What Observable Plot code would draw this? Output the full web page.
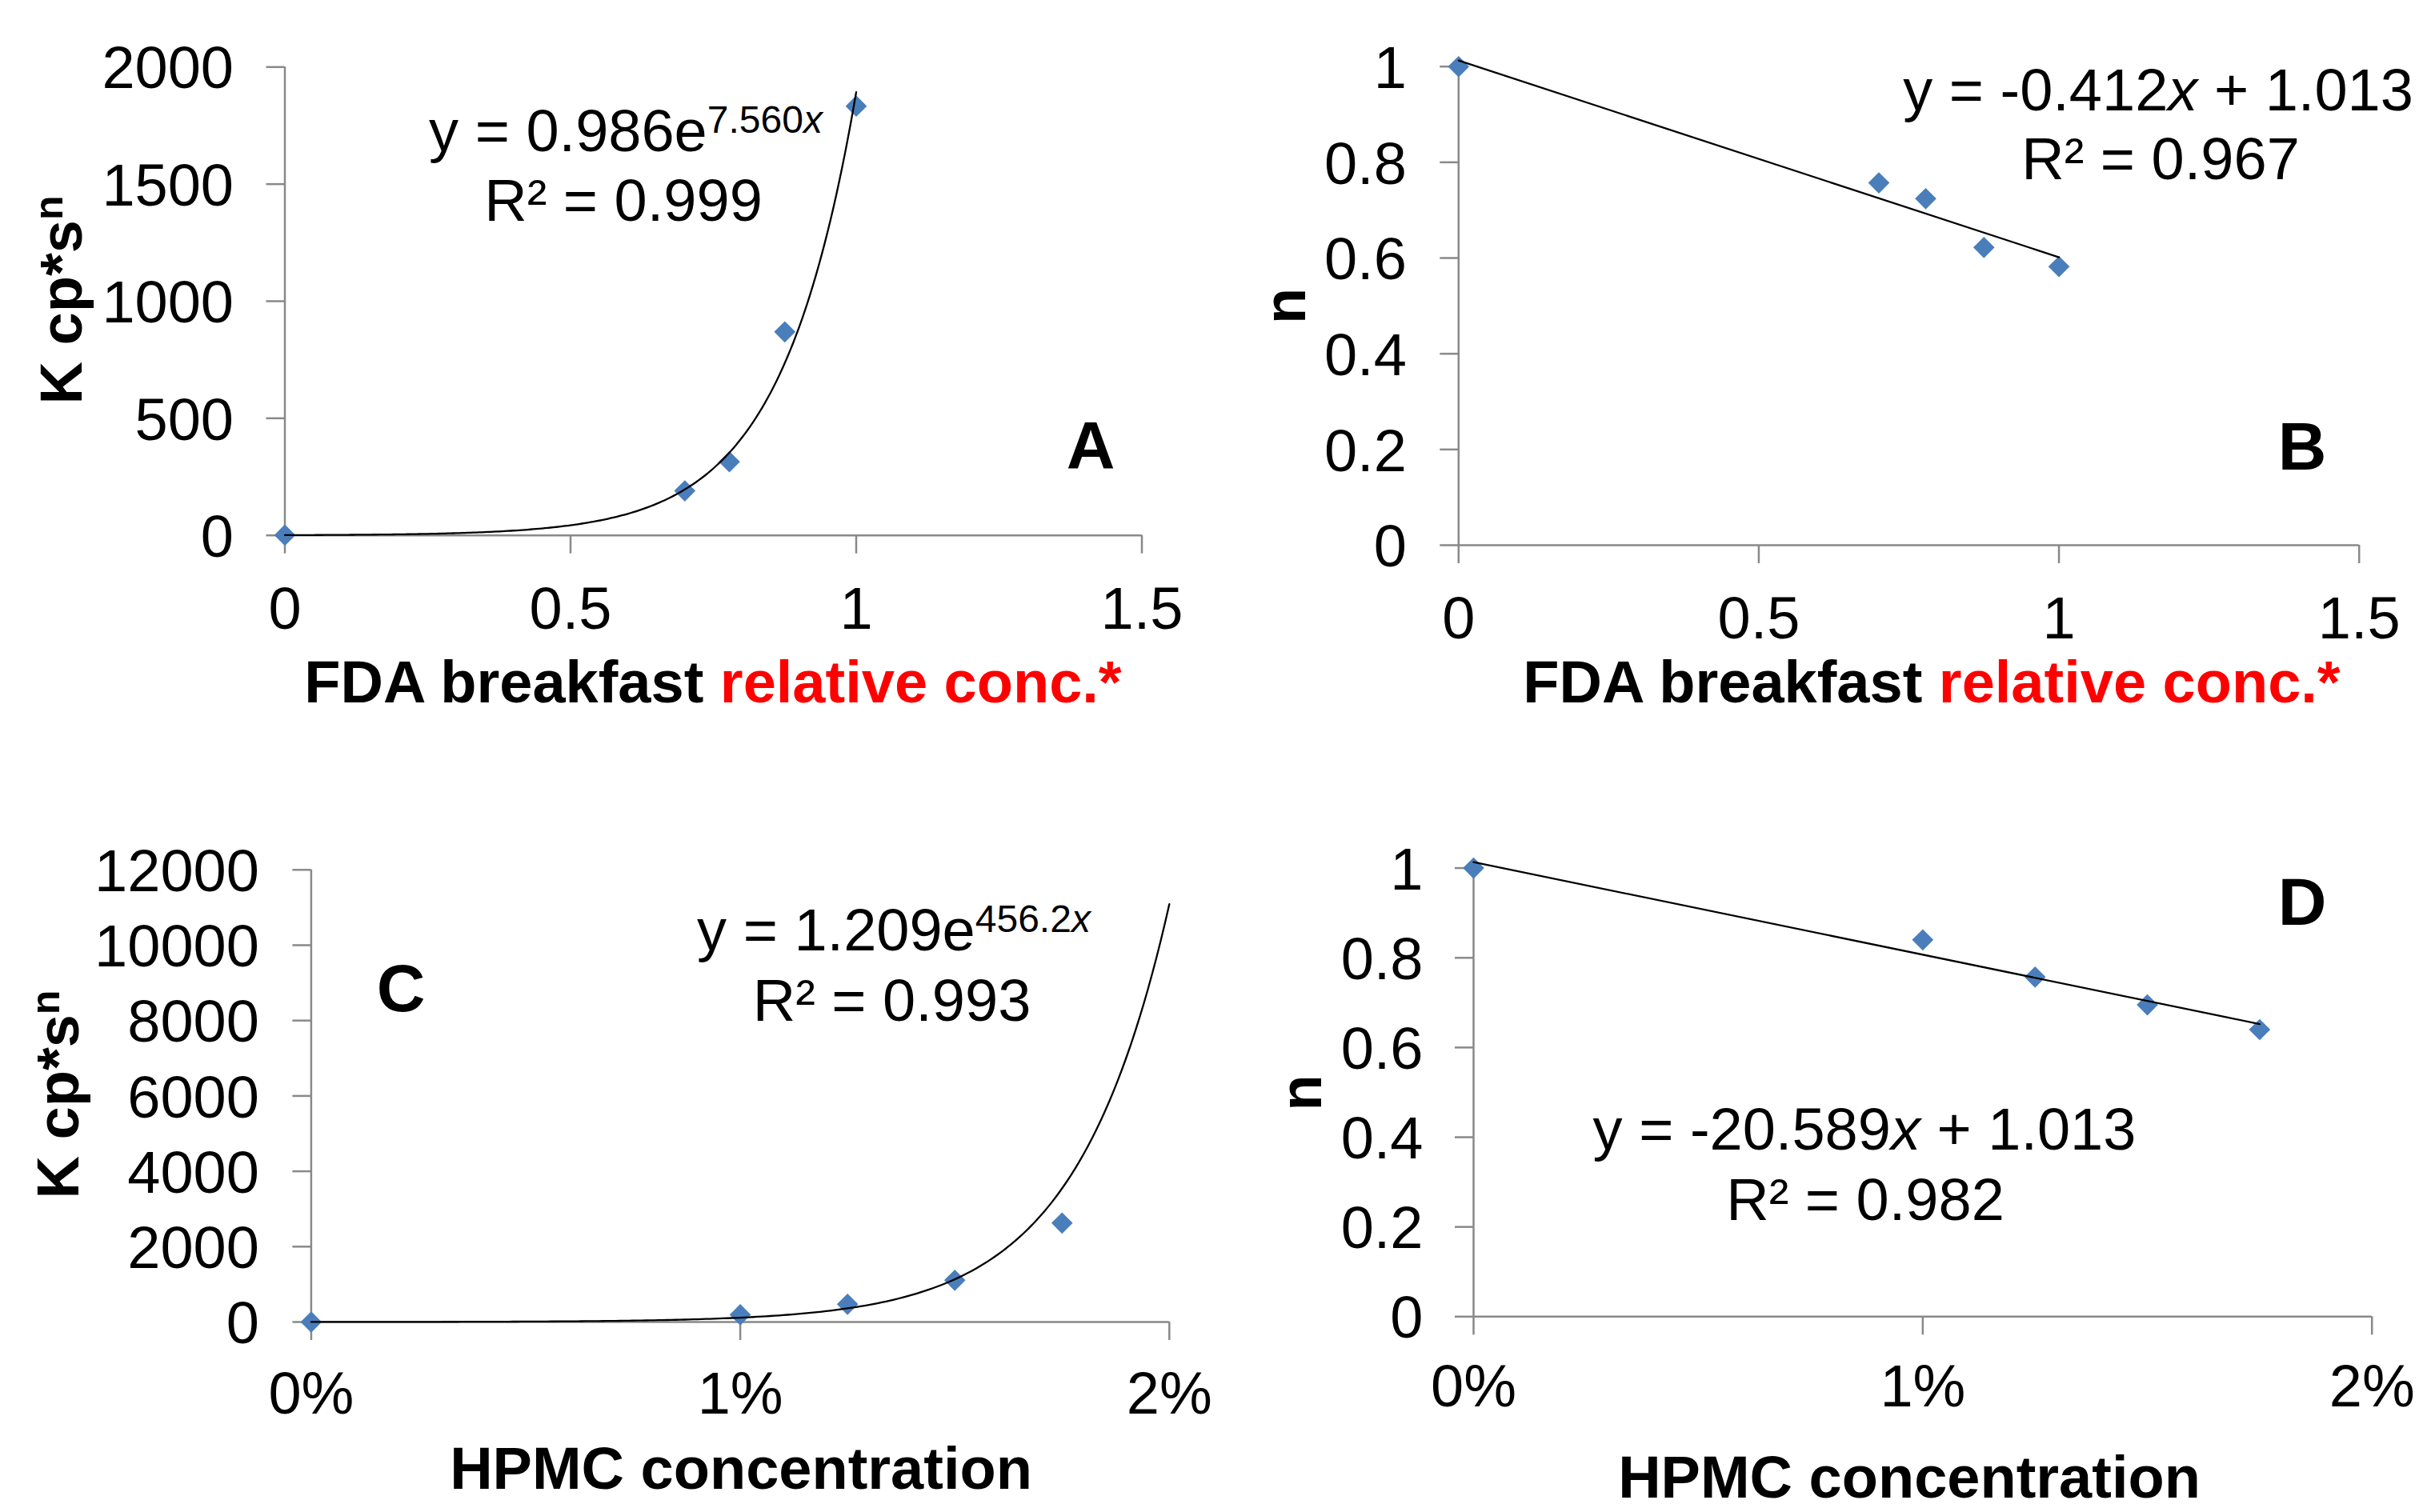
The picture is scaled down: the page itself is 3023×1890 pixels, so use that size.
<!DOCTYPE html>
<html>
<head>
<meta charset="utf-8">
<script src="https://cdn.jsdelivr.net/npm/d3@7"></script>
<script src="https://cdn.jsdelivr.net/npm/@observablehq/plot@0.6"></script>
<style>
  html, body { margin: 0; padding: 0; background: #fff; overflow: hidden; }
  #root { position: relative; width: 3023px; height: 1890px; background: #fff; }
  #root svg { position: absolute; overflow: visible; }
</style>
</head>
<body>
<div id="root"></div>
<script>
// ---------- data ----------
const fdaConc   = [0, 0.7, 0.778, 0.875, 1];          // FDA breakfast relative conc.
const fdaK      = [1, 190, 314, 869, 1833];           // K (cp*s^n)
const fdaN      = [1.0, 0.757, 0.724, 0.622, 0.582];  // n
const hpmcConc  = [0, 0.01, 0.0125, 0.015, 0.0175];   // HPMC concentration
const hpmcK     = [1, 193, 470, 1108, 2626];
const hpmcN     = [1.0, 0.840, 0.757, 0.695, 0.640];

// exponential trendline coefficients shown on the chart: y = a * e^(b x)
const fitKfda  = [0.986, 7.560];
const fitKhpmc = [1.209, 456.2];

// tick labels
const fdaXTicks   = [0, 0.5, 1, 1.5];
const kFdaYTicks  = [0, 500, 1000, 1500, 2000];
const nYTicks     = [0, 0.2, 0.4, 0.6, 0.8, 1];
const hpmcXTicks  = [0, 0.01, 0.02];
const kHpmcYTicks = [0, 2000, 4000, 6000, 8000, 10000, 12000];

// texts
const eqA = ["y = 0.986e", "7.560", "x"];
const r2A = "R² = 0.999";
const eqB = ["y = -0.412", "x", " + 1.013"];
const r2B = "R² = 0.967";
const eqC = ["y = 1.209e", "456.2", "x"];
const r2C = "R² = 0.993";
const eqD = ["y = -20.589", "x", " + 1.013"];
const r2D = "R² = 0.982";
const titleFda = ["FDA breakfast ", "relative conc.*"];
const titleHpmc = "HPMC concentration";
const labelK = ["K cp*s", "n"];
const labelN = "n";

// ---------- styling ----------
const FONT = "Liberation Sans, Arial, Helvetica, sans-serif";
const AXIS = "#898989";
const MARKER = "#4A7EBB";
const FS = 74;

const root = document.getElementById("root");

function zip(xs, ys) { return xs.map((x, i) => ({x, y: ys[i]})); }

function expCurve(coef, x0, x1, n) {
  return d3.range(n + 1).map(i => {
    const x = x0 + (x1 - x0) * i / n;
    return {x, y: coef[0] * Math.exp(coef[1] * x)};
  });
}

function panel(p) {
  const svg = Plot.plot({
    width: p.w, height: p.h,
    marginLeft: p.ml, marginRight: p.mr, marginTop: p.mt, marginBottom: p.mb,
    style: {background: "transparent", overflow: "visible", fontFamily: FONT, color: "#000"},
    x: {domain: p.xDomain},
    y: {domain: p.yDomain},
    marks: [
      Plot.ruleY([0], {stroke: AXIS, strokeWidth: 2.5}),
      Plot.ruleX([0], {stroke: AXIS, strokeWidth: 2.5}),
      // ticks only
      Plot.axisX({ticks: p.xTicks, tickSize: 23, stroke: AXIS, strokeWidth: 2.5, fill: "none", label: null}),
      Plot.axisY({ticks: p.yTicks, tickSize: 23, stroke: AXIS, strokeWidth: 2.5, fill: "none", label: null}),
      // tick labels only
      Plot.axisX({ticks: p.xTicks, tickFormat: p.xFormat, tickSize: 0, tickPadding: 23 + p.xPad,
                  fill: "#000", fontSize: FS, fontFamily: FONT, label: null}),
      Plot.axisY({ticks: p.yTicks, tickFormat: p.yFormat, tickSize: 0, tickPadding: 23 + p.yPad,
                  fill: "#000", fontSize: FS, fontFamily: FONT, label: null, dy: 3}),
      Plot.dot(p.points, {x: "x", y: "y", symbol: "diamond2", r: 12, fill: MARKER, stroke: "none"}),
      p.fit
    ]
  });
  svg.style.left = p.left + "px";
  svg.style.top = p.top + "px";
  root.appendChild(svg);
  const g = d3.select(svg).append("g").attr("font-family", FONT).style("white-space", "pre");
  for (const t of p.texts) {
    const el = g.append("text")
      .attr("x", t.x - p.left)
      .attr("y", t.y - p.top)
      .attr("text-anchor", "middle")
      .attr("font-size", t.size || FS)
      .attr("font-weight", t.bold ? "bold" : "normal")
      .attr("fill", "#000");
    if (t.rotate) el.attr("transform", `rotate(-90, ${t.x - p.left}, ${t.y - p.top})`);
    for (const s of t.parts) {
      const ts = el.append("tspan").text(s.t);
      if (s.size) ts.attr("font-size", s.size);
      if (s.dy) ts.attr("dy", s.dy);
      if (s.italic) ts.attr("font-style", "italic");
      if (s.fill) ts.attr("fill", s.fill);
    }
  }
  return svg;
}

const SUP = 48, SUPDY = -23;
const pct = d => Math.round(d * 100) + "%";
const plain = d => String(d);

// Panel A
panel({
  left: 0, top: 0, w: 1540, h: 950,
  ml: 355.5, mr: 113.5, mt: 83.3, mb: 281.3,
  xDomain: [0, 1.5], yDomain: [0, 2000],
  xTicks: fdaXTicks, yTicks: kFdaYTicks, xFormat: plain, yFormat: plain, xPad: 41, yPad: 41,
  points: zip(fdaConc, fdaK),
  fit: Plot.line(expCurve(fitKfda, 0, 1, 200), {x: "x", y: "y", stroke: "#000", strokeWidth: 2.3}),
  texts: [
    {x: 782, y: 189, parts: [{t: eqA[0]}, {t: eqA[1], size: SUP, dy: SUPDY}, {t: eqA[2], size: SUP, italic: true}]},
    {x: 779, y: 275.5, parts: [{t: r2A}]},
    {x: 1363, y: 585.5, size: 84, bold: true, parts: [{t: "A"}]},
    {x: 891, y: 878, bold: true, parts: [{t: titleFda[0]}, {t: titleFda[1], fill: "#FF0000"}]},
    {x: 101.7, y: 375, bold: true, rotate: true, parts: [{t: labelK[0]}, {t: labelK[1], size: 50, dy: -24}]}
  ]
});

// Panel B
panel({
  left: 1540, top: 0, w: 1483, h: 950,
  ml: 282.3, mr: 75.3, mt: 82.7, mb: 269,
  xDomain: [0, 1.5], yDomain: [0, 1],
  xTicks: fdaXTicks, yTicks: nYTicks, xFormat: plain, yFormat: plain, xPad: 40.5, yPad: 42,
  points: zip(fdaConc, fdaN),
  fit: Plot.linearRegressionY(zip(fdaConc, fdaN), {x: "x", y: "y", stroke: "#000", strokeWidth: 2.3, ci: 0}),
  texts: [
    {x: 2697, y: 138, parts: [{t: eqB[0]}, {t: eqB[1], italic: true}, {t: eqB[2]}]},
    {x: 2700, y: 224, parts: [{t: r2B}]},
    {x: 2877, y: 586.5, size: 84, bold: true, parts: [{t: "B"}]},
    {x: 2414, y: 878.3, bold: true, parts: [{t: titleFda[0]}, {t: titleFda[1], fill: "#FF0000"}]},
    {x: 1630.7, y: 382.5, bold: true, rotate: true, parts: [{t: labelN}]}
  ]
});

// Panel C
panel({
  left: 0, top: 950, w: 1540, h: 940,
  ml: 388.4, mr: 79.2, mt: 136.8, mb: 238,
  xDomain: [0, 0.02], yDomain: [0, 12000],
  xTicks: hpmcXTicks, yTicks: kHpmcYTicks, xFormat: pct, yFormat: plain, xPad: 38.5, yPad: 42,
  points: zip(hpmcConc, hpmcK),
  fit: Plot.line(expCurve(fitKhpmc, 0, 0.02, 200), {x: "x", y: "y", stroke: "#000", strokeWidth: 2.3}),
  texts: [
    {x: 1117, y: 1188, parts: [{t: eqC[0]}, {t: eqC[1], size: SUP, dy: SUPDY}, {t: eqC[2], size: SUP, italic: true}]},
    {x: 1114.5, y: 1276, parts: [{t: r2C}]},
    {x: 501, y: 1264, size: 84, bold: true, parts: [{t: "C"}]},
    {x: 926, y: 1861, bold: true, parts: [{t: titleHpmc}]},
    {x: 98, y: 1368, bold: true, rotate: true, parts: [{t: labelK[0]}, {t: labelK[1], size: 50, dy: -24}]}
  ]
});

// Panel D
panel({
  left: 1540, top: 950, w: 1483, h: 940,
  ml: 301, mr: 59.3, mt: 134.6, mb: 244.7,
  xDomain: [0, 0.02], yDomain: [0, 1],
  xTicks: hpmcXTicks, yTicks: nYTicks, xFormat: pct, yFormat: plain, xPad: 37, yPad: 40,
  points: zip(hpmcConc, hpmcN),
  fit: Plot.linearRegressionY(zip(hpmcConc, hpmcN), {x: "x", y: "y", stroke: "#000", strokeWidth: 2.3, ci: 0}),
  texts: [
    {x: 2330, y: 1437, parts: [{t: eqD[0]}, {t: eqD[1], italic: true}, {t: eqD[2]}]},
    {x: 2331, y: 1525, parts: [{t: r2D}]},
    {x: 2877, y: 1156, size: 84, bold: true, parts: [{t: "D"}]},
    {x: 2386, y: 1872, bold: true, parts: [{t: titleHpmc}]},
    {x: 1650.5, y: 1366, bold: true, rotate: true, parts: [{t: labelN}]}
  ]
});
</script>
</body>
</html>
